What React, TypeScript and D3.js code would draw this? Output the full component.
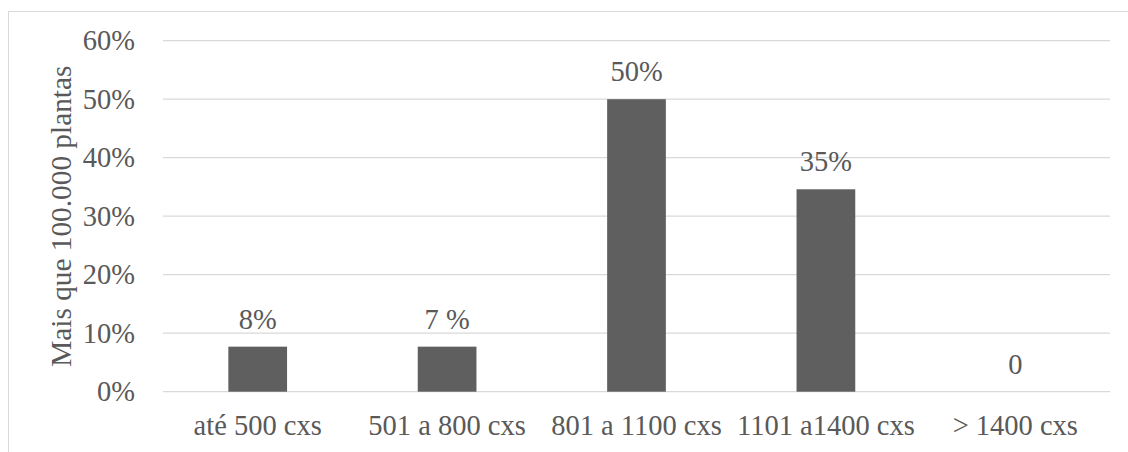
import React from "react";
import * as d3 from "d3";

// Share of producers (more than 100,000 plants) by box output
const categories = ["até 500 cxs", "501 a 800 cxs", "801 a 1100 cxs", "1101 a1400 cxs", "> 1400 cxs"];
const shares = [7.7, 7.7, 50, 34.6, 0];
const valueLabels = ["8%", "7 %", "50%", "35%", "0"];
const yTicks = [0, 10, 20, 30, 40, 50, 60];
const yTitle = "Mais que 100.000 plantas";

const W = 1128;
const H = 452;
const plot = { left: 163, right: 1110, top: 40.7, bottom: 391.7 };

const FONT = '"Liberation Serif"';
const TEXT = "#595959";
const GRID = "#d9d9d9";
const BAR = "#5f5f5f";

const textStyle: React.CSSProperties = { fontFamily: FONT, fontSize: "28.5px" };

export default function App() {
  const x = d3
    .scaleBand<string>()
    .domain(categories)
    .range([plot.left, plot.right])
    .paddingInner(0.69)
    .paddingOuter(0.345);
  const y = d3.scaleLinear().domain([0, 60]).range([plot.bottom, plot.top]);
  const band = d3.scaleBand<string>().domain(categories).range([plot.left, plot.right]);

  return (
    <svg width={W} height={H} style={{ position: "absolute", left: 0, top: 0, background: "#fff" }}>
      <rect x={8.5} y={11.5} width={W + 20} height={H + 20} fill="#fff" stroke={GRID} strokeWidth={1} />

      {yTicks.map((t) => (
        <g key={t}>
          <line x1={plot.left} x2={plot.right} y1={y(t)} y2={y(t)} stroke={GRID} strokeWidth={1.3} />
          <text x={135} y={y(t)} dy="0.34em" textAnchor="end" style={textStyle} fill={TEXT}>
            {`${t}%`}
          </text>
        </g>
      ))}

      {categories.map((c, i) => {
        const top = y(shares[i]);
        const cx = (x(c) as number) + x.bandwidth() / 2;
        return (
          <g key={c}>
            {shares[i] > 0 && (
              <rect x={x(c)} y={top} width={x.bandwidth()} height={y(0) - top} fill={BAR} />
            )}
            <text x={cx} y={top - 18} textAnchor="middle" style={textStyle} fill={TEXT}>
              {valueLabels[i]}
            </text>
            <text
              x={(band(c) as number) + band.bandwidth() / 2}
              y={435}
              textAnchor="middle"
              style={textStyle}
              fill={TEXT}
            >
              {c}
            </text>
          </g>
        );
      })}

      <text
        transform={`translate(${71}, ${(plot.top + plot.bottom) / 2}) rotate(-90)`}
        textAnchor="middle"
        style={{ fontFamily: FONT, fontSize: "29.3px" }}
        fill={TEXT}
      >
        {yTitle}
      </text>
    </svg>
  );
}
